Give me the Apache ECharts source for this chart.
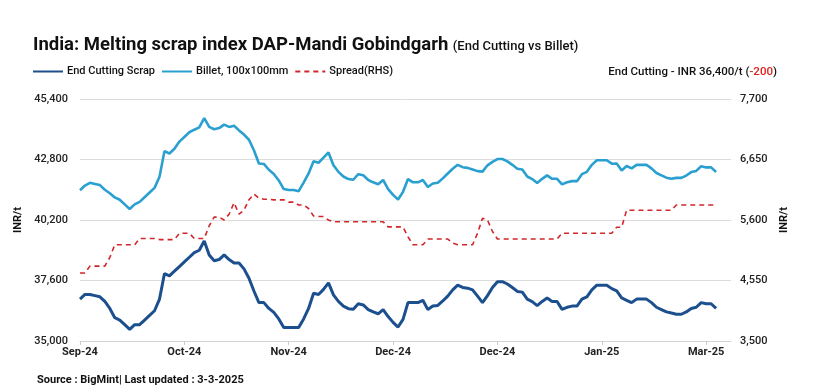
<!DOCTYPE html>
<html>
<head>
<meta charset="utf-8">
<script src="https://cdn.jsdelivr.net/npm/echarts@6/dist/echarts.min.js"></script>
<style>
html,body{margin:0;padding:0;background:#fff;}
#chart{width:826px;height:392px;}
</style>
</head>
<body>
<div id="chart"></div>
<script>
// ---- data ----
const tickLabels = ['Sep-24', 'Oct-24', 'Nov-24', 'Dec-24', 'Dec-24', 'Jan-25', 'Mar-25'];
const labelStep = 21;      // categories between labelled ticks
const axisSlots = 132;     // category slots on the x axis (data ends before the axis end)

const scrap = [
  36800, 37000, 37000, 36950, 36900, 36700, 36400, 36000, 35900, 35700,
  35500, 35700, 35700, 35900, 36100, 36300, 36800, 37900, 37800, 38000,
  38200, 38400, 38600, 38800, 38900, 39300, 38700, 38450, 38500, 38700,
  38500, 38350, 38350, 38100, 37700, 37150, 36650, 36650, 36400, 36230,
  35950, 35580, 35580, 35580, 35580, 35950, 36400, 37050, 37000, 37220,
  37500, 36980, 36700, 36500, 36390, 36360, 36600, 36550, 36350, 36250,
  36170, 36350, 36050, 35800, 35600, 35930, 36650, 36650, 36650, 36750,
  36350, 36500, 36530, 36720, 36930, 37200, 37400, 37300, 37270, 37200,
  36930, 36650, 36950, 37300, 37550, 37550, 37450, 37300, 37130, 37100,
  36800, 36690, 36520, 36700, 36850, 36700, 36700, 36360, 36450, 36500,
  36500, 36800, 36900, 37200, 37400, 37400, 37400, 37250, 37150, 36850,
  36750, 36650, 36800, 36800, 36800, 36650, 36450, 36350, 36250, 36200,
  36150, 36150, 36250, 36400, 36450, 36650, 36600, 36600, 36400
];

const billet = [
  41480, 41680, 41800, 41750, 41700, 41500, 41350, 41170, 41070, 40870,
  40670, 40870, 40980, 41180, 41380, 41580, 42060, 43160, 43060, 43260,
  43570, 43770, 43970, 44080, 44180, 44580, 44200, 44100, 44150, 44300,
  44200, 44250, 44050, 43870, 43650, 43200, 42630, 42610, 42360, 42180,
  41900, 41530, 41490, 41490, 41440, 41810, 42200, 42720, 42660, 42880,
  43100, 42550, 42270, 42070, 41960, 41930, 42170, 42120, 41920, 41820,
  41740, 41920, 41530, 41280, 41080, 41410, 41960, 41820, 41820, 41920,
  41620, 41770, 41800, 41990, 42200, 42400, 42570, 42470, 42440, 42370,
  42300, 42280, 42550, 42700, 42820, 42820, 42720, 42570, 42400, 42370,
  42070, 41960, 41790, 41970, 42120, 41970, 41970, 41730, 41820, 41870,
  41870, 42170, 42270, 42570, 42770, 42770, 42770, 42620, 42625, 42325,
  42520, 42420, 42570, 42570, 42570, 42420, 42220, 42120, 42020, 41970,
  42010, 42010, 42110, 42260, 42310, 42510, 42460, 42460, 42260
];

const spread = [
  4680, 4680, 4800, 4800, 4800, 4800, 4950, 5170, 5170, 5170,
  5170, 5170, 5280, 5280, 5280, 5280, 5260, 5260, 5260, 5260,
  5370, 5370, 5370, 5280, 5280, 5280, 5500, 5650, 5650, 5600,
  5700, 5900, 5700, 5770, 5950, 6050, 5980, 5960, 5960, 5950,
  5950, 5950, 5910, 5910, 5860, 5860, 5800, 5670, 5660, 5660,
  5600, 5570, 5570, 5570, 5570, 5570, 5570, 5570, 5570, 5570,
  5570, 5570, 5480, 5480, 5480, 5480, 5310, 5170, 5170, 5170,
  5270, 5270, 5270, 5270, 5270, 5200, 5170, 5170, 5170, 5170,
  5370, 5630, 5600, 5400, 5270, 5270, 5270, 5270, 5270, 5270,
  5270, 5270, 5270, 5270, 5270, 5270, 5270, 5370, 5370, 5370,
  5370, 5370, 5370, 5370, 5370, 5370, 5370, 5370, 5475, 5475,
  5770, 5770, 5770, 5770, 5770, 5770, 5770, 5770, 5770, 5770,
  5860, 5860, 5860, 5860, 5860, 5860, 5860, 5860, 5860
];

const leftTicks = { min: 35000, max: 45400, step: 2600 };
const rightTicks = { min: 3500, max: 7700, step: 1050 };

const seriesNames = ['End Cutting Scrap', 'Billet, 100x100mm', 'Spread(RHS)'];
const titleMain = 'India: Melting scrap index DAP-Mandi Gobindgarh';
const titleSub = '(End Cutting vs Billet)';
const sourceText = 'Source : BigMint| Last updated : 3-3-2025';

// ---- build ----
const categories = [];
for (let i = 0; i < axisSlots; i++) categories.push(String(i));

const fmt = v => Number(v).toLocaleString('en-US');
const lastVal = scrap[scrap.length - 1];
const chg = lastVal - scrap[scrap.length - 2];
const chgText = (chg > 0 ? '+' : '') + fmt(chg);

const FONT = 'Roboto';
const chart = echarts.init(document.getElementById('chart'), null, { renderer: 'canvas' });

chart.setOption({
  backgroundColor: '#ffffff',
  animation: false,
  textStyle: { fontFamily: FONT },
  title: [
    {
      text: '{m|' + titleMain + '} {s|' + titleSub + '}',
      left: 33, top: 36, padding: 0,
      textStyle: {
        rich: {
          m: { fontFamily: FONT, fontSize: 18.5, fontWeight: 'bold', color: '#111111' },
          s: { fontFamily: FONT, fontSize: 13, fontWeight: 500, color: '#111111', padding: [3, 0, 0, 0] }
        }
      }
    },
    {
      text: '{a|End Cutting - INR ' + fmt(lastVal) + '/t (}{r|' + chgText + '}{a|)}',
      right: 49, top: 66, padding: 0,
      textStyle: {
        rich: {
          a: { fontFamily: FONT, fontSize: 11.5, fontWeight: 500, color: '#111111' },
          r: { fontFamily: FONT, fontSize: 11.5, fontWeight: 500, color: '#e0201b' }
        }
      }
    },
    {
      text: sourceText,
      left: 37, top: 375, padding: 0,
      textStyle: { fontFamily: FONT, fontSize: 11, fontWeight: 'bold', color: '#111111' }
    }
  ],
  legend: {
    left: 32, top: 66, padding: 0,
    itemWidth: 30, itemHeight: 8, itemGap: 6,
    itemStyle: { opacity: 0 },
    textStyle: { fontFamily: FONT, fontSize: 11, fontWeight: 500, color: '#111111', padding: [0, 0, 0, -1] },
    data: seriesNames
  },
  grid: { left: 80, right: 95, top: 99, bottom: 51, containLabel: false },
  xAxis: {
    type: 'category',
    data: categories,
    boundaryGap: false,
    axisLine: { show: true, lineStyle: { color: '#d4d4d4', width: 1 } },
    axisTick: { show: true, interval: labelStep - 1, length: 4, lineStyle: { color: '#cccccc' } },
    axisLabel: {
      interval: labelStep - 1,
      margin: 6,
      fontFamily: FONT, fontSize: 11, fontWeight: 'bold', color: '#222222',
      formatter: (v, idx) => tickLabels[Math.round(idx / labelStep)] || ''
    },
    splitLine: { show: false }
  },
  yAxis: [
    {
      type: 'value',
      min: leftTicks.min, max: leftTicks.max, interval: leftTicks.step,
      name: 'INR/t', nameLocation: 'middle', nameGap: 51, nameRotate: 90,
      nameTextStyle: { fontFamily: FONT, fontSize: 11, fontWeight: 'bold', color: '#111111' },
      axisLine: { show: false }, axisTick: { show: false },
      axisLabel: { margin: 12, fontFamily: FONT, fontSize: 11, fontWeight: 500, color: '#222222', formatter: v => fmt(v) },
      splitLine: { show: true, lineStyle: { color: '#dcdcdc', width: 1 } }
    },
    {
      type: 'value',
      min: rightTicks.min, max: rightTicks.max, interval: rightTicks.step,
      name: 'INR/t', nameLocation: 'middle', nameGap: 46, nameRotate: 90,
      nameTextStyle: { fontFamily: FONT, fontSize: 11, fontWeight: 'bold', color: '#111111' },
      axisLine: { show: false }, axisTick: { show: false },
      axisLabel: { margin: 9, fontFamily: FONT, fontSize: 11, fontWeight: 500, color: '#222222', formatter: v => fmt(v) },
      splitLine: { show: false }
    }
  ],
  series: [
    {
      name: seriesNames[0], type: 'line', data: scrap, yAxisIndex: 0,
      symbol: 'none', showSymbol: false, z: 3,
      lineStyle: { color: '#1c4f8e', width: 3 }, itemStyle: { color: '#1c4f8e' }
    },
    {
      name: seriesNames[1], type: 'line', data: billet, yAxisIndex: 0,
      symbol: 'none', showSymbol: false, z: 3,
      lineStyle: { color: '#2aa0d0', width: 2.6 }, itemStyle: { color: '#2aa0d0' }
    },
    {
      name: seriesNames[2], type: 'line', data: spread, yAxisIndex: 1,
      symbol: 'none', showSymbol: false, z: 2,
      lineStyle: { color: '#d2262b', width: 1.6, type: [5, 4] }, itemStyle: { color: '#d2262b' }
    }
  ]
});
</script>
</body>
</html>
